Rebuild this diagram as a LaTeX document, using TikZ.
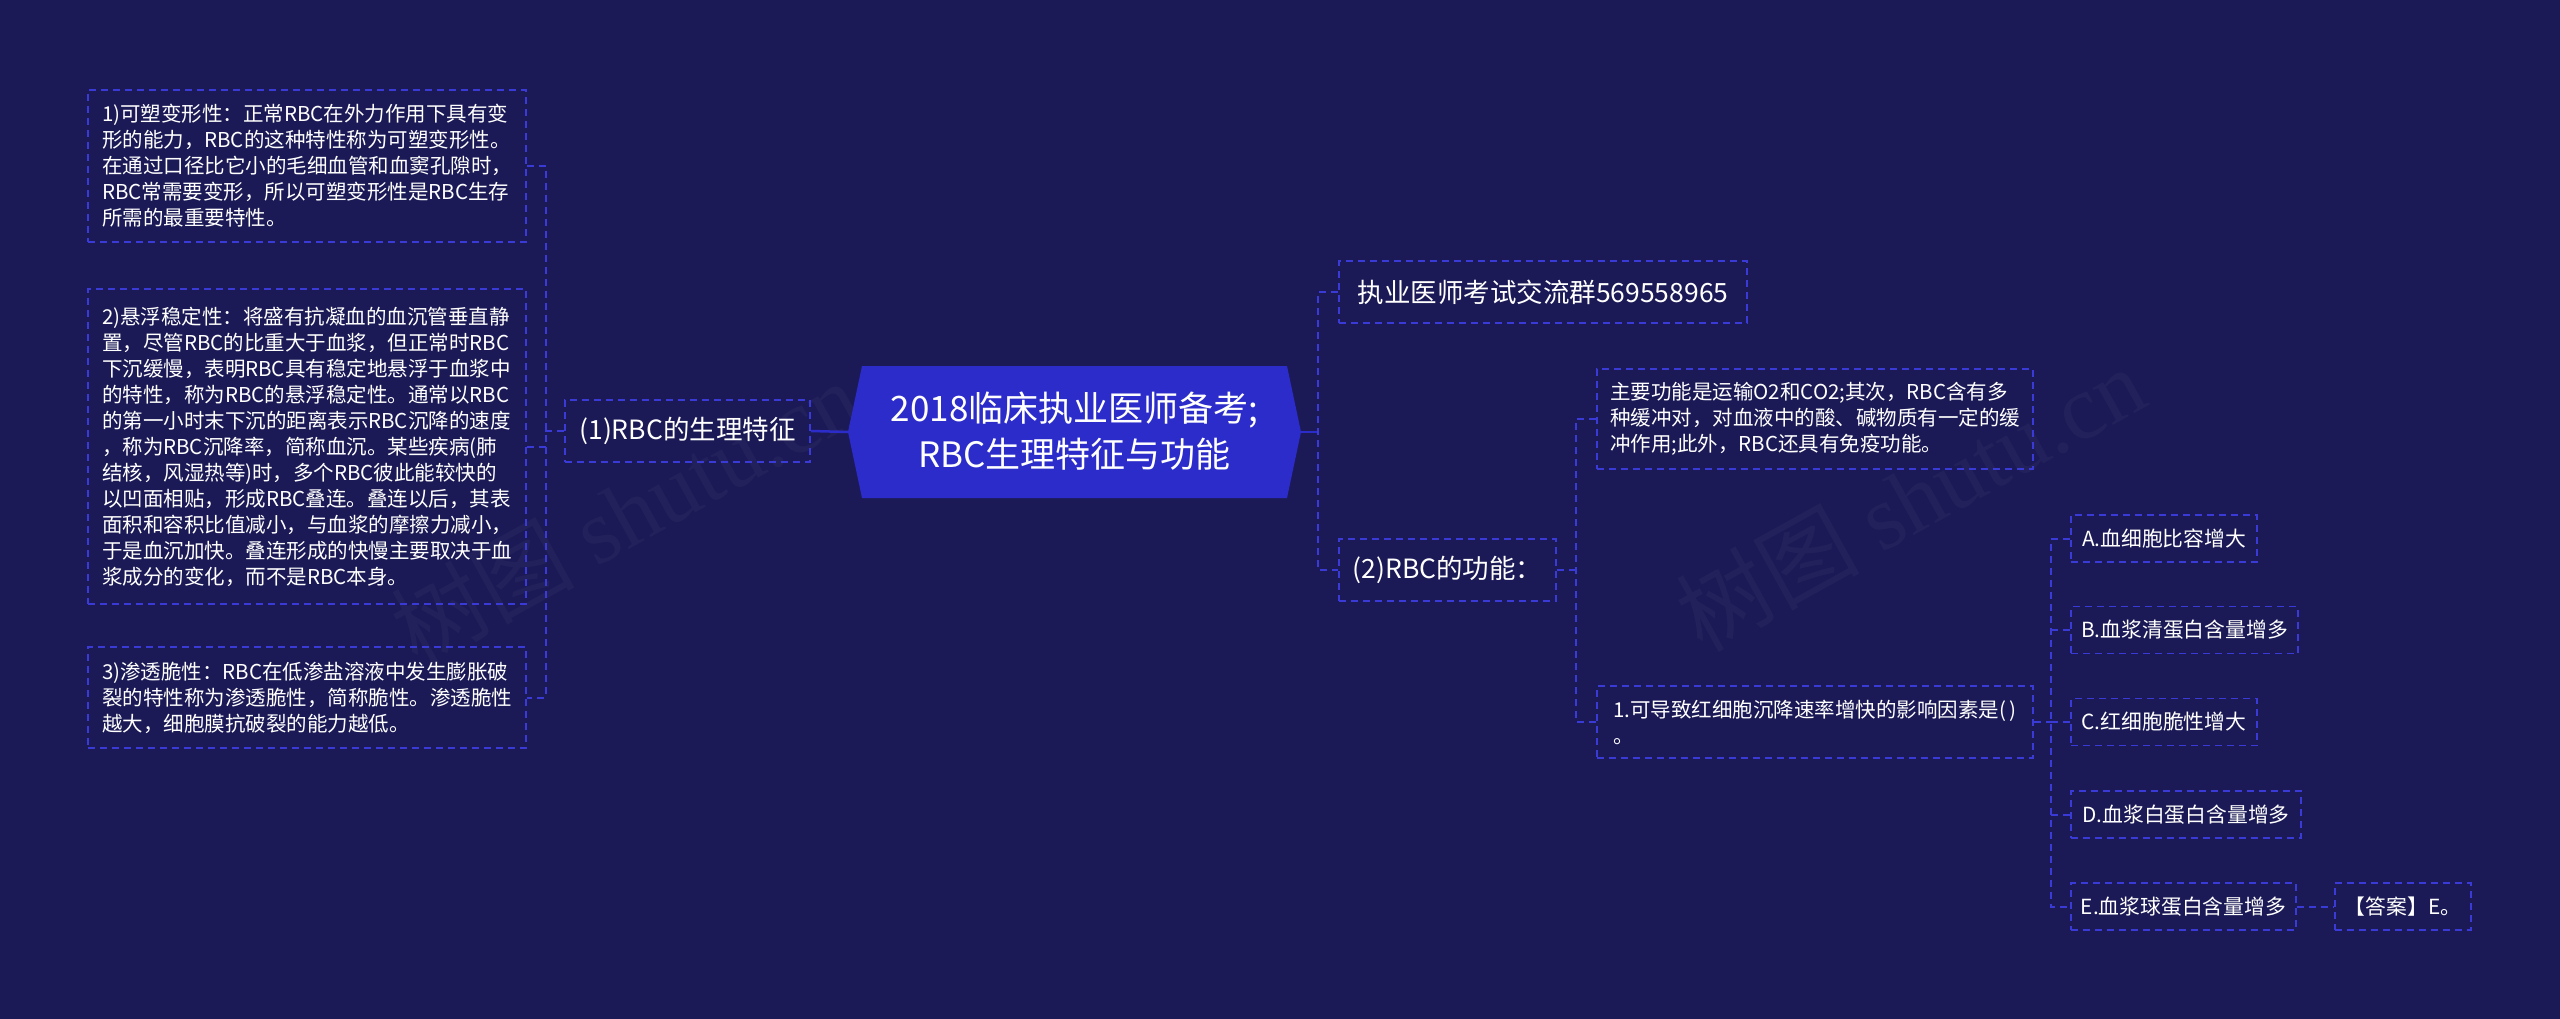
\documentclass[tikz,border=0pt]{standalone}
\usepackage{fontspec}
\newfontfamily\cjk{Noto Sans CJK SC}
\newfontfamily\wmserif{Liberation Serif}
\newcommand\ftSmall{\cjk\fontsize{20.5}{26}\selectfont}
\newcommand\ftOpt{\cjk\fontsize{20.8}{26}\selectfont}
\newcommand\ftMid{\cjk\fontsize{26.5}{32}\selectfont}
\newcommand\ftBig{\cjk\fontsize{35}{46}\selectfont}
\newcommand\ftWm{\cjk\fontsize{92}{100}\selectfont}
\definecolor{bgc}{HTML}{1B1A56}
\definecolor{dashc}{HTML}{3A3AD6}
\definecolor{rootc}{HTML}{2C2CCA}
\tikzset{
  box/.style={draw=dashc, dash pattern=on 7pt off 5pt, line width=1.6pt,
    text=white, align=left, inner sep=0pt},
  smallbox/.style={box, font=\ftSmall},
  optbox/.style={box, font=\ftOpt, minimum height=47pt},
  midbox/.style={box, font=\ftMid, minimum height=62pt},
  conn/.style={draw=dashc, dash pattern=on 7pt off 5pt, line width=2pt},
  solidconn/.style={draw=rootc, line width=2.5pt},
  wm/.style={text=white, opacity=0.03, font=\ftWm, inner sep=0pt}
}
\begin{document}
\begin{tikzpicture}[x=1pt,y=-1pt]
\fill[bgc] (0,0) rectangle (2560,1019);
\useasboundingbox (0,0) rectangle (2560,1019);

% watermarks (very faint)
\node[wm, rotate=29] (wm1) at (625,512) {树图 {\wmserif shutu.cn}};
\node[wm, rotate=29] (wm2) at (1910,498) {树图 {\wmserif shutu.cn}};

% root hexagon
\coordinate (rootL) at (848,432);
\coordinate (rootTL) at (862,366);
\coordinate (rootTR) at (1287,366);
\coordinate (rootR) at (1301,432);
\coordinate (rootBR) at (1287,498);
\coordinate (rootBL) at (862,498);
\fill[rootc] (rootL) -- (rootTL) -- (rootTR) -- (rootR) -- (rootBR) -- (rootBL) -- cycle;
\node[text=white, font=\ftBig, align=center, inner sep=0pt] (root) at (1074.5,431)
  {2018临床执业医师备考;\\RBC生理特征与功能};

% left branch
\node[midbox, minimum width=245pt] (n1) at (687.5,431) {(1)RBC的生理特征};
\node[smallbox, minimum width=438pt, minimum height=152pt] (b1) at (307,166)
  {1)可塑变形性：正常RBC在外力作用下具有变\\形的能力，RBC的这种特性称为可塑变形性。\\在通过口径比它小的毛细血管和血窦孔隙时，\\RBC常需要变形，所以可塑变形性是RBC生存\\所需的最重要特性。};
\node[smallbox, minimum width=438pt, minimum height=315pt] (b2) at (307,446.5)
  {2)悬浮稳定性：将盛有抗凝血的血沉管垂直静\\置，尽管RBC的比重大于血浆，但正常时RBC\\下沉缓慢，表明RBC具有稳定地悬浮于血浆中\\的特性，称为RBC的悬浮稳定性。通常以RBC\\的第一小时末下沉的距离表示RBC沉降的速度\\，称为RBC沉降率，简称血沉。某些疾病(肺\\结核，风湿热等)时，多个RBC彼此能较快的\\以凹面相贴，形成RBC叠连。叠连以后，其表\\面积和容积比值减小，与血浆的摩擦力减小，\\于是血沉加快。叠连形成的快慢主要取决于血\\浆成分的变化，而不是RBC本身。};
\node[smallbox, minimum width=438pt, minimum height=101pt] (b3) at (307,697.5)
  {3)渗透脆性：RBC在低渗盐溶液中发生膨胀破\\裂的特性称为渗透脆性，简称脆性。渗透脆性\\越大，细胞膜抗破裂的能力越低。};

% right branch
\node[midbox, minimum width=408pt] (r1) at (1543,292) {执业医师考试交流群569558965};
\node[midbox, minimum width=217pt] (r2) at (1447.5,570) {(2)RBC的功能：};
\node[smallbox, minimum width=436pt, minimum height=100pt] (r2a) at (1815,419)
  {主要功能是运输O2和CO2;其次，RBC含有多\\种缓冲对，对血液中的酸、碱物质有一定的缓\\冲作用;此外，RBC还具有免疫功能。};
\node[smallbox, minimum width=436pt, minimum height=72pt] (r2b) at (1815,722)
  {1.可导致红细胞沉降速率增快的影响因素是(\,)\\。};
\node[optbox, minimum width=186pt] (oa) at (2164,538.5) {A.血细胞比容增大};
\node[optbox, minimum width=227pt] (ob) at (2184.5,630) {B.血浆清蛋白含量增多};
\node[optbox, minimum width=186pt] (oc) at (2164,722) {C.红细胞脆性增大};
\node[optbox, minimum width=230pt] (od) at (2186,814.5) {D.血浆白蛋白含量增多};
\node[optbox, minimum width=225pt] (oe) at (2183.5,906.5) {E.血浆球蛋白含量增多};
\node[optbox, minimum width=136pt] (ans) at (2403,906.5) {【答案】E。};

% connectors left
\draw[solidconn] (rootL) -- (n1.east);
\draw[conn] (n1.west) -- ++(-20,0);
\draw[conn] (b1.east) -- ++(19,0) |- (b3.east);
\draw[conn] (b2.east) -- ++(19,0);

% connectors right
\draw[solidconn] (rootR) -- ++(18,0);
\draw[conn] (r1.west) -- ++(-20,0) |- (r2.west);
\draw[conn] (r2.east) -- ++(21,0);
\draw[conn] (r2a.west) -- ++(-20,0) |- (r2b.west);
\draw[conn] (r2b.east) -- ++(19,0);
\draw[conn] (oa.west) -- ++(-19,0) |- (oe.west);
\draw[conn] (ob.west) -- ++(-19,0);
\draw[conn] (oc.west) -- ++(-19,0);
\draw[conn] (od.west) -- ++(-19,0);
\draw[conn] (oe.east) -- (ans.west);
\end{tikzpicture}
\end{document}
